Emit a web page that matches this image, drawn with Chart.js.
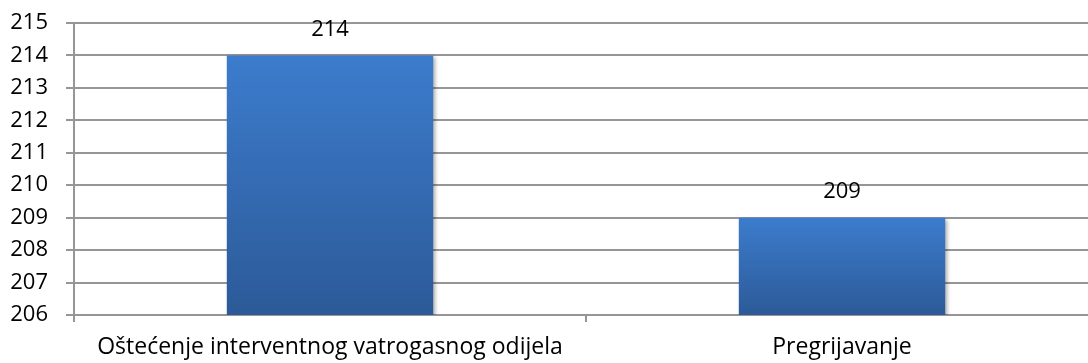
<!DOCTYPE html>
<html>
<head>
<meta charset="utf-8">
<script src="https://cdn.jsdelivr.net/npm/chart.js@4/dist/chart.umd.min.js"></script>
<style>
  html, body { margin: 0; padding: 0; background: #fff; overflow: hidden; }
  #wrap { width: 1098px; height: 363px; }
</style>
</head>
<body>
<div id="wrap"><canvas id="chart"></canvas></div>
<script>
// Podaci
const categories = ["Oštećenje interventnog vatrogasnog odijela", "Pregrijavanje"];
const values = [214, 209];
const yMin = 206;
const yMax = 215;

const FONT = "'Open Sans', sans-serif";
const gridColor = "#969696";

// gradijent za svaki stupac posebno (svjetlije gore, tamnije dolje)
function barGradient(ctx) {
  const chart = ctx.chart;
  if (!chart.chartArea || !chart.scales.y) return "#3a78c8";
  const top = chart.scales.y.getPixelForValue(values[ctx.dataIndex]);
  const bottom = chart.scales.y.getPixelForValue(yMin);
  const g = chart.ctx.createLinearGradient(0, top, 0, bottom);
  g.addColorStop(0, "#3c7ccd");
  g.addColorStop(1, "#2c5a98");
  return g;
}

// sjena ispod stupaca
const barShadow = {
  id: "barShadow",
  beforeDatasetsDraw(chart) {
    const c = chart.ctx;
    c.save();
    c.shadowColor = "rgba(0,0,0,0.35)";
    c.shadowBlur = 4;
    c.shadowOffsetX = 2;
    c.shadowOffsetY = 2;
  },
  afterDatasetsDraw(chart) {
    chart.ctx.restore();
  },
};

// vrijednosti iznad stupaca
const valueLabels = {
  id: "valueLabels",
  afterDatasetsDraw(chart) {
    const c = chart.ctx;
    const meta = chart.getDatasetMeta(0);
    c.save();
    c.font = "22px " + FONT;
    c.fillStyle = "#000";
    c.textAlign = "center";
    c.textBaseline = "middle";
    meta.data.forEach((bar, i) => {
      c.fillText(String(values[i]), bar.x, bar.y - 26);
    });
    c.restore();
  },
};

new Chart(document.getElementById("chart"), {
  type: "bar",
  data: {
    labels: categories,
    datasets: [
      {
        data: values,
        backgroundColor: barGradient,
        borderWidth: 0,
        barPercentage: 0.403,
        categoryPercentage: 1,
      },
    ],
  },
  options: {
    responsive: true,
    maintainAspectRatio: false,
    animation: false,
    layout: { padding: { top: 23, right: 0, left: 0, bottom: 0 } },
    plugins: {
      legend: { display: false },
      tooltip: { enabled: false },
    },
    scales: {
      x: {
        grid: {
          offset: true,
          drawOnChartArea: false,
          drawTicks: true,
          tickLength: 7,
          color: gridColor,
          lineWidth: 2,
        },
        border: { color: gridColor, width: 2 },
        ticks: {
          color: "#000",
          font: { family: FONT, size: 23 },
          padding: 12,
          maxRotation: 0,
          autoSkip: false,
        },
        afterFit(scale) {
          scale.height = 48;
        },
      },
      y: {
        min: yMin,
        max: yMax,
        grid: {
          color: gridColor,
          lineWidth: 2,
          drawTicks: true,
          tickLength: 8,
        },
        border: { color: gridColor, width: 2 },
        ticks: {
          stepSize: 1,
          color: "#000",
          font: { family: FONT, size: 22 },
          padding: 18,
        },
        afterFit(scale) {
          scale.width = 74;
          // vrh osi određuje samo layout.padding
          scale.paddingTop = 0;
          scale.paddingBottom = 0;
        },
      },
    },
  },
  plugins: [barShadow, valueLabels],
});
</script>
</body>
</html>
